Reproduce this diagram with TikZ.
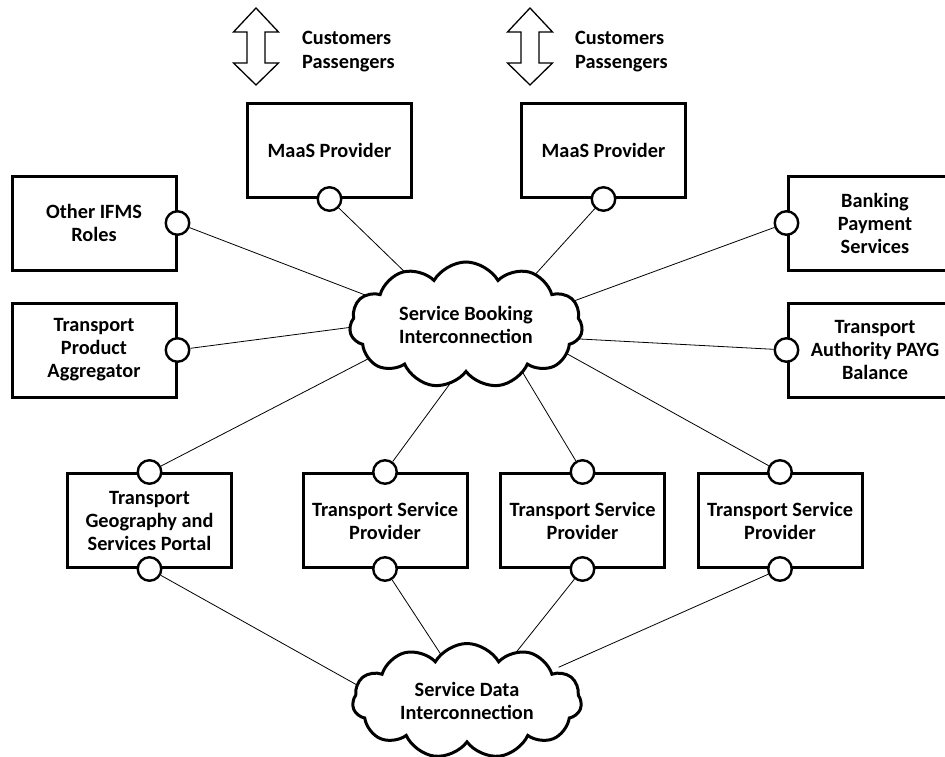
\documentclass[tikz,border=0pt]{standalone}
\usepackage{fontspec}
\setmainfont{Carlito}
\usetikzlibrary{shapes.symbols,calc,backgrounds}
\begin{document}
\begin{tikzpicture}[x=1pt,y=-1pt,
  lbl/.style={font=\bfseries\fontsize{20.3}{23}\selectfont, align=center},
  box/.style={draw, line width=3pt, minimum width=164pt, minimum height=94pt, lbl, inner sep=0pt, fill=white},
  port/.style={circle, draw, line width=2.4pt, fill=white, minimum size=23.5pt, inner sep=0pt},
  link/.style={line width=0.8pt},
  net/.style={cloud, draw, line width=3pt, fill=white, cloud puffs=11, cloud puff arc=120, cloud ignores aspect, lbl, inner sep=0pt},
  cust/.style={font=\bfseries\fontsize{20.3}{24}\selectfont, align=left, anchor=west, inner sep=0pt},
  dblarrow/.pic={\draw[line width=1.3pt, fill=white, line join=miter] (0,8) -- (22.5,32) -- (9,32) -- (9,63) -- (22.5,63) -- (0,85) -- (-22.5,63) -- (-9,63) -- (-9,32) -- (-22.5,32) -- cycle;}
]
\useasboundingbox (0,0) rectangle (945,757);
\clip (0,0) rectangle (945,757);

% arrows and customer labels
\pic (ar1) at (256,0) {dblarrow};
\pic (ar2) at (530,0) {dblarrow};
\node[cust] (cu1) at (302,51.5) {Customers\\Passengers};
\node[cust] (cu2) at (575,51.5) {Customers\\Passengers};

% boxes
\node[box] (m1) at (329.5,150.5) {MaaS Provider};
\node[box] (m2) at (603.5,150.5) {MaaS Provider};
\node[box] (oi) at (94,223) {Other IFMS\\Roles};
\node[box] (tpa) at (94,350) {Transport\\Product\\Aggregator};
\node[box, minimum width=174pt] (bank) at (875,223) {Banking\\Payment\\Services};
\node[box, minimum width=174pt] (payg) at (875,350) {Transport\\Authority PAYG\\Balance};
\node[box] (g) at (149.5,520.5) {Transport\\Geography and\\Services Portal};
\node[box] (s1) at (385,520.5) {Transport Service\\Provider};
\node[box] (s2) at (582.5,520.5) {Transport Service\\Provider};
\node[box] (s3) at (780,520.5) {Transport Service\\Provider};

% ports
\node[port] (pm1) at (m1.south) {};
\node[port] (pm2) at (m2.south) {};
\node[port] (poi) at (oi.east) {};
\node[port] (ptpa) at (tpa.east) {};
\node[port] (pbank) at (bank.west) {};
\node[port] (ppayg) at (payg.west) {};
\node[port] (pgt) at (g.north) {};
\node[port] (ps1t) at (s1.north) {};
\node[port] (ps2t) at (s2.north) {};
\node[port] (ps3t) at (s3.north) {};
\node[port] (pgb) at (g.south) {};
\node[port] (ps1b) at (s1.south) {};
\node[port] (ps2b) at (s2.south) {};
\node[port] (ps3b) at (s3.south) {};

% clouds
\node[net, minimum width=233pt, minimum height=126pt] (sbi) at (466,325) {Service Booking\\Interconnection};
\node[net, minimum width=229pt, minimum height=115pt] (sdi) at (467,701) {Service Data\\Interconnection};

% connector end points on the clouds
\coordinate (e1) at (410,277);
\coordinate (e2) at (542,267);
\coordinate (e3) at (373,298);
\coordinate (e4) at (353,327);
\coordinate (e5) at (582,298);
\coordinate (e6) at (580,339);
\coordinate (e7) at (362,362);
\coordinate (e8) at (449,385);
\coordinate (e9) at (523,373);
\coordinate (e10) at (562,351);
\coordinate (e11) at (357,685);
\coordinate (e12) at (438,650);
\coordinate (e13) at (518,650);
\coordinate (e14) at (575,660);

\begin{scope}[on background layer]
\draw[link] (pm1) -- ($(pm1)!1.12!(e1)$);
\draw[link] (pm2) -- ($(pm2)!1.12!(e2)$);
\draw[link] (poi) -- ($(poi)!1.08!(e3)$);
\draw[link] (ptpa) -- ($(ptpa)!1.08!(e4)$);
\draw[link] (pbank) -- ($(pbank)!1.08!(e5)$);
\draw[link] (ppayg) -- ($(ppayg)!1.08!(e6)$);
\draw[link] (pgt) -- ($(pgt)!1.08!(e7)$);
\draw[link] (ps1t) -- ($(ps1t)!1.12!(e8)$);
\draw[link] (ps2t) -- ($(ps2t)!1.12!(e9)$);
\draw[link] (ps3t) -- ($(ps3t)!1.08!(e10)$);
\draw[link] (pgb) -- ($(pgb)!1.08!(e11)$);
\draw[link] (ps1b) -- ($(ps1b)!1.15!(e12)$);
\draw[link] (ps2b) -- ($(ps2b)!1.15!(e13)$);
\draw[link] (ps3b) -- ($(ps3b)!1.08!(e14)$);
\end{scope}
\end{tikzpicture}
\end{document}
